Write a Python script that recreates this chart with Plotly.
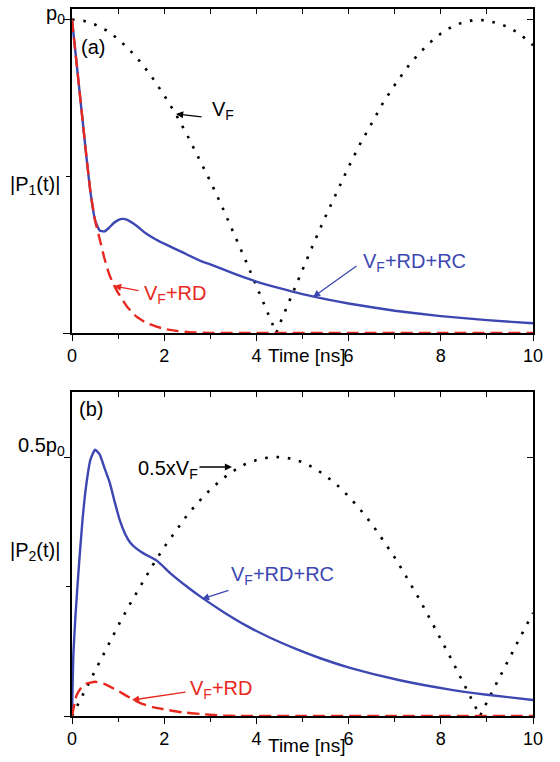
import plotly.graph_objects as go

# ---------------- data ----------------
# panel (a): |P1(t)|, values in units of p0
t_vf_a = [0, 0.25, 0.5, 0.75, 1.0, 1.25, 1.5, 1.75, 2.0, 2.25, 2.5, 2.75, 3.0, 3.25,
          3.5, 3.75, 4.0, 4.25, 4.43, 4.5, 4.75, 5.0, 5.25, 5.5, 5.75, 6.0, 6.25, 6.5,
          6.75, 7.0, 7.25, 7.5, 7.75, 8.0, 8.25, 8.5, 8.75, 9.0, 9.25, 9.5, 9.75, 10.0]
p1_vf = [1.000, 0.996, 0.984, 0.965, 0.938, 0.903, 0.862, 0.813, 0.758, 0.698, 0.631,
         0.560, 0.484, 0.405, 0.322, 0.237, 0.150, 0.062, 0.000, 0.027, 0.115, 0.203,
         0.289, 0.372, 0.453, 0.530, 0.603, 0.671, 0.735, 0.791, 0.843, 0.887, 0.925,
         0.955, 0.978, 0.992, 0.999, 0.997, 0.987, 0.974, 0.949, 0.918]

t_rc_a = [0, 0.1, 0.2, 0.3, 0.4, 0.5, 0.6, 0.7, 0.8, 0.9, 1.0, 1.1, 1.2, 1.4, 1.6, 1.8,
          2.0, 2.4, 2.8, 3.0, 3.5, 4.0, 4.5, 5.0, 5.5, 6.0, 7.0, 8.0, 9.0, 10.0]
p1_rc = [1.000, 0.860, 0.720, 0.580, 0.450, 0.360, 0.327, 0.324, 0.335, 0.350, 0.360,
         0.364, 0.361, 0.342, 0.318, 0.300, 0.285, 0.257, 0.229, 0.219, 0.190, 0.164,
         0.143, 0.124, 0.108, 0.094, 0.071, 0.054, 0.041, 0.031]

t_rd_a = [0, 0.1, 0.2, 0.3, 0.4, 0.5, 0.6, 0.7, 0.8, 0.9, 1.0, 1.2, 1.4, 1.6, 1.8, 2.0,
          2.3, 2.6, 3.0, 4.0, 6.0, 8.0, 10.0]
p1_rd = [1.000, 0.860, 0.720, 0.580, 0.450, 0.360, 0.300, 0.240, 0.190, 0.155, 0.128,
         0.083, 0.052, 0.033, 0.022, 0.013, 0.006, 0.002, 0.000, 0.000, 0.000, 0.000, 0.000]

# panel (b): |P2(t)|, values in units of p0
t_vf_b = [0, 0.25, 0.5, 0.75, 1.0, 1.25, 1.5, 1.75, 2.0, 2.25, 2.5, 2.75, 3.0, 3.25,
          3.5, 3.75, 4.0, 4.25, 4.5, 4.75, 5.0, 5.25, 5.5, 5.75, 6.0, 6.25, 6.5, 6.75,
          7.0, 7.25, 7.5, 7.75, 8.0, 8.25, 8.5, 8.75, 8.85, 9.0, 9.25, 9.5, 9.75, 10.0]
p2_vf = [0.000, 0.044, 0.088, 0.132, 0.174, 0.215, 0.254, 0.291, 0.326, 0.358, 0.388,
         0.414, 0.437, 0.457, 0.473, 0.486, 0.494, 0.499, 0.500, 0.497, 0.490, 0.479,
         0.464, 0.446, 0.424, 0.399, 0.371, 0.339, 0.306, 0.269, 0.231, 0.190, 0.149,
         0.106, 0.062, 0.018, 0.000, 0.027, 0.071, 0.114, 0.157, 0.199]

t_rc_b = [0, 0.03, 0.08, 0.15, 0.22, 0.3, 0.4, 0.5, 0.6, 0.7, 0.82, 0.93, 1.04, 1.15,
          1.26, 1.4, 1.55, 1.84, 2.13, 2.49, 2.81, 3.3, 3.79, 4.3, 4.87, 5.4, 6.03,
          7.11, 8.2, 9.0, 10.0]
p2_rc = [0.000, 0.120, 0.200, 0.290, 0.370, 0.440, 0.495, 0.514, 0.505, 0.480, 0.450,
         0.412, 0.377, 0.352, 0.335, 0.323, 0.314, 0.300, 0.276, 0.250, 0.229, 0.200,
         0.174, 0.151, 0.129, 0.111, 0.093, 0.069, 0.051, 0.041, 0.031]

t_rd_b = [0, 0.1, 0.2, 0.3, 0.5, 0.7, 0.97, 1.2, 1.48, 1.75, 2.05, 2.4, 2.78, 3.2, 3.6,
          5.0, 7.0, 10.0]
p2_rd = [0.000, 0.040, 0.055, 0.062, 0.066, 0.062, 0.050, 0.038, 0.025, 0.017, 0.012,
         0.007, 0.004, 0.001, 0.000, 0.000, 0.000, 0.000]

x_ticks = [0, 2, 4, 6, 8, 10]

# ---------------- styling ----------------
BLUE = "#3d47b2"
RED = "#e8281e"
FONT = "Liberation Sans, Arial, sans-serif"
W, H = 560, 762
ML, MR, MT, MB = 72, 27, 9, 46
PW, PH = W - ML - MR, H - MT - MB


def fx(px):
    return (px - ML) / PW


def fy(py):
    return (H - MB - py) / PH


TOP_DOM = [fy(333), 1.0]
BOT_DOM = [0.0, fy(392)]

fig = go.Figure()


def curve(x, y, color, dash, xa, ya, shape="spline", width=2.4):
    fig.add_trace(go.Scatter(
        x=x, y=y, mode="lines", xaxis=xa, yaxis=ya, hoverinfo="skip",
        line=dict(color=color, width=width, dash=dash, shape=shape, smoothing=0.45),
        showlegend=False))


DOT = "2.6px,8.8px"
DASH = "12px,6px"

curve(t_vf_a, p1_vf, "black", DOT, "x", "y", shape="linear", width=2.6)
curve(t_rc_a, p1_rc, BLUE, "solid", "x", "y")
curve(t_rd_a, p1_rd, RED, DASH, "x", "y")

curve(t_vf_b, p2_vf, "black", DOT, "x2", "y2", shape="linear", width=2.6)
curve(t_rc_b, p2_rc, BLUE, "solid", "x2", "y2")
curve(t_rd_b, p2_rd, RED, DASH, "x2", "y2")

# empty traces so the mirrored frame axes are drawn
for xa, ya in (("x3", "y3"), ("x4", "y4")):
    fig.add_trace(go.Scatter(x=[], y=[], xaxis=xa, yaxis=ya, showlegend=False,
                             hoverinfo="skip"))

axis_common = dict(showline=True, linecolor="black", linewidth=1.5, showgrid=False,
                   zeroline=False, tickcolor="black", tickwidth=1.3,
                   tickfont=dict(family=FONT, size=18, color="black"),
                   layer="below traces")

bottom_x = dict(axis_common, range=[0, 10], tickmode="array", tickvals=x_ticks,
                ticks="outside", ticklen=6,
                minor=dict(tickmode="array", tickvals=[1, 3, 5, 7, 9], ticks="outside",
                           ticklen=4, tickcolor="black", tickwidth=1.3))
top_x = dict(axis_common, range=[0, 10], side="top", tickmode="array",
             tickvals=list(range(0, 11)), ticks="inside", ticklen=5,
             showticklabels=False)

fig.update_layout(
    width=W, height=H,
    margin=dict(l=ML, r=MR, t=MT, b=MB, pad=0),
    paper_bgcolor="white", plot_bgcolor="white",
    xaxis=dict(bottom_x, domain=[0, 1], anchor="y"),
    yaxis=dict(axis_common, domain=TOP_DOM, anchor="x", range=[0, 1.0335],
               tickmode="array", tickvals=[0, 1], ticktext=["", ""], ticks="outside",
               ticklen=7,
               minor=dict(tickmode="array", tickvals=[0.5], ticks="outside", ticklen=4,
                          tickcolor="black", tickwidth=1.3)),
    xaxis3=dict(top_x, anchor="y", overlaying="x"),
    yaxis3=dict(axis_common, anchor="x", overlaying="y", side="right",
                range=[0, 1.0335], tickmode="array", tickvals=[1], ticks="inside",
                ticklen=6, showticklabels=False),
    xaxis2=dict(bottom_x, domain=[0, 1], anchor="y2"),
    yaxis2=dict(axis_common, domain=BOT_DOM, anchor="x2", range=[0, 0.6255],
                tickmode="array", tickvals=[0, 0.5], ticktext=["", ""], ticks="outside",
                ticklen=6,
                minor=dict(tickmode="array", tickvals=[0.25], ticks="outside", ticklen=4,
                           tickcolor="black", tickwidth=1.3)),
    xaxis4=dict(top_x, anchor="y2", overlaying="x2"),
    yaxis4=dict(axis_common, anchor="x2", overlaying="y2", side="right",
                range=[0, 0.6255], tickmode="array", tickvals=[0.5], ticks="inside",
                ticklen=6, showticklabels=False),
)


def label(text, px, py, color="black", size=20, xanchor="left"):
    fig.add_annotation(text=text, x=fx(px), y=fy(py), xref="paper", yref="paper",
                       xanchor=xanchor, yanchor="middle", showarrow=False,
                       font=dict(family=FONT, size=size, color=color))


def arrow(tail, head, color):
    fig.add_annotation(text="", x=fx(head[0]), y=fy(head[1]), xref="paper",
                       yref="paper", ax=tail[0] - head[0], ay=tail[1] - head[1],
                       axref="pixel", ayref="pixel", showarrow=True, arrowhead=2,
                       arrowsize=1.1, arrowwidth=1.3, arrowcolor=color)


# panel (a) texts
label("(a)", 79, 47)
label("p<sub>0</sub>", 67, 14, xanchor="right")
label("|P<sub>1</sub>(t)|", 8, 185)
label("V<sub>F</sub>", 210, 111)
arrow((203, 117), (176, 114), "black")
label("V<sub>F</sub>+RD", 142, 294, color=RED)
arrow((140, 291), (114, 286), RED)
label("V<sub>F</sub>+RD+RC", 361, 262, color=BLUE)
arrow((358, 265), (313, 297), BLUE)
label("Time [ns]", 306, 355, size=19, xanchor="center")

# panel (b) texts
label("(b)", 77, 409)
label("0.5p<sub>0</sub>", 67, 446, xanchor="right")
label("|P<sub>2</sub>(t)|", 8, 551)
label("0.5xV<sub>F</sub>", 136, 469)
arrow((198, 467), (232, 467), "black")
label("V<sub>F</sub>+RD+RC", 229, 575, color=BLUE)
arrow((230, 590), (202, 599), BLUE)
label("V<sub>F</sub>+RD", 188, 689, color=RED)
arrow((187, 692), (132, 700), RED)
label("Time [ns]", 306, 746, size=19, xanchor="center")

fig.write_html("out.html")
